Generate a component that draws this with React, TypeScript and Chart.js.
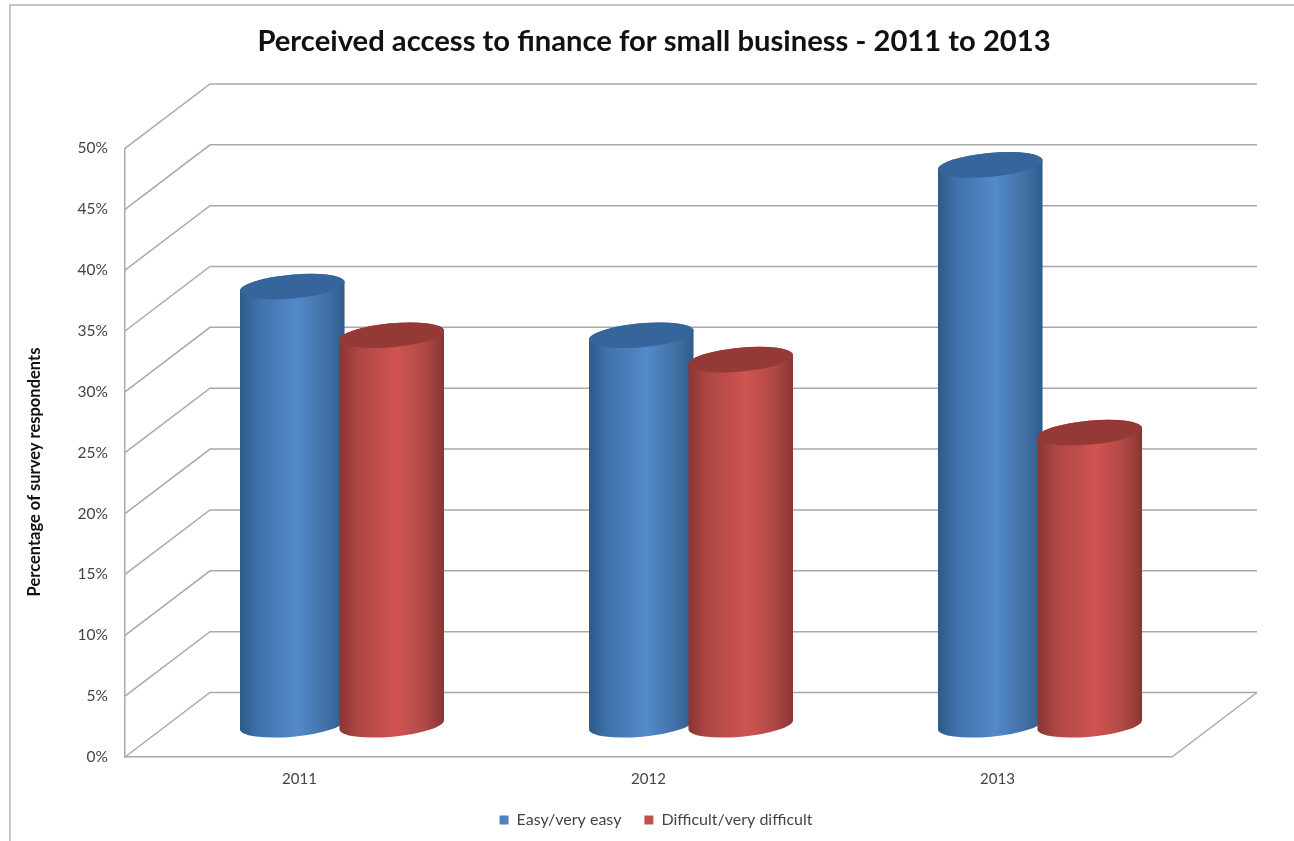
import React, { useEffect, useRef } from "react";
import { Chart, registerables } from "chart.js";

Chart.register(...registerables);

const years = ["2011", "2012", "2013"];
const easyShare = [36, 32, 46];
const difficultShare = [32, 30, 24];
const seriesNames = ["Easy/very easy", "Difficult/very difficult"];
const chartTitle = "Perceived access to finance for small business - 2011 to 2013";
const valueAxisTitle = "Percentage of survey respondents";

const FONT = "Lato";
const GRID = "#a9a9a9";
const TEXT = "#444444";
// Oblique projection of the floor: how far the back wall sits from the front plane.
const DEPTH_X = 85;
const DEPTH_Y = 64.5;

const tones = [
  { stops: ["#2b5a8a", "#3f72ab", "#538aca", "#4373a9", "#2f5c8c"], cap: "#35659a", key: "#4f81bd" },
  { stops: ["#8a3533", "#ad4643", "#cf5451", "#b24a47", "#8a3533"], cap: "#953937", key: "#c0504d" },
];
const stopAt = [0, 0.18, 0.55, 0.8, 1];

const box3d = {
  id: "box3d",
  afterLayout(chart: any) {
    // Title and legend are centred on the whole figure, not on the plot.
    if (chart.titleBlock) {
      chart.titleBlock.left = 0;
      chart.titleBlock.right = 1308;
    }
    if (chart.legend) {
      chart.legend.left = 0;
      chart.legend.right = 1312;
      chart.legend.top -= 3;
      chart.legend.bottom -= 3;
    }
  },
  beforeDraw(chart: any) {
    const { ctx } = chart;
    ctx.save();
    ctx.strokeStyle = "#b4b4b4";
    ctx.lineWidth = 1.5;
    ctx.beginPath();
    ctx.moveTo(10, 841);
    ctx.lineTo(10, 5);
    ctx.lineTo(1294, 5);
    ctx.stroke();
    ctx.restore();
  },
  beforeDatasetsDraw(chart: any) {
    const { ctx, scales } = chart;
    const { x, y } = scales;
    const left = x.left;
    const right = x.right;

    // Walls: one L-shaped line per value tick, then the right edge of the floor.
    ctx.save();
    ctx.strokeStyle = GRID;
    ctx.lineWidth = 1.5;
    for (const tick of y.ticks) {
      const py = y.getPixelForValue(tick.value);
      ctx.beginPath();
      ctx.moveTo(left, py);
      ctx.lineTo(left + DEPTH_X, py - DEPTH_Y);
      ctx.lineTo(right + DEPTH_X, py - DEPTH_Y);
      ctx.stroke();
    }
    const floor = y.getPixelForValue(0);
    ctx.beginPath();
    ctx.moveTo(right + DEPTH_X, floor - DEPTH_Y);
    ctx.lineTo(right, floor);
    ctx.stroke();

    // Value-axis title sits below the plot's mid height.
    ctx.fillStyle = "#111111";
    ctx.font = `bold 16.5px ${FONT}`;
    ctx.textAlign = "center";
    ctx.textBaseline = "middle";
    ctx.translate(35, 472);
    ctx.rotate(-Math.PI / 2);
    ctx.fillText(valueAxisTitle, 0, 0);
    ctx.restore();

    // Cylinders stand at mid depth; later series overlap earlier ones.
    chart.data.datasets.forEach((_: any, di: number) => {
      const tone = tones[di];
      chart.getDatasetMeta(di).data.forEach((bar: any) => {
        const cx = bar.x + DEPTH_X / 2;
        const rx = bar.width / 2 + 2.75;
        const ry = 12;
        const tilt = -0.09;
        const top = bar.y - DEPTH_Y / 2;
        const base = bar.base - DEPTH_Y / 2;

        const body = ctx.createLinearGradient(cx - rx, 0, cx + rx, 0);
        tone.stops.forEach((c: string, i: number) => body.addColorStop(stopAt[i], c));

        ctx.save();
        ctx.beginPath();
        ctx.ellipse(cx, base, rx, ry, tilt, 0, Math.PI);
        ctx.ellipse(cx, top, rx, ry, tilt, Math.PI, Math.PI * 2);
        ctx.closePath();
        ctx.fillStyle = body;
        ctx.fill();

        ctx.beginPath();
        ctx.ellipse(cx, top, rx, ry, tilt, 0, Math.PI * 2);
        ctx.fillStyle = tone.cap;
        ctx.fill();
        ctx.restore();
      });
    });

    // The bars are fully painted above, so the default rectangles are skipped.
    return false;
  },
};

export default function App() {
  const ref = useRef<HTMLCanvasElement>(null);

  useEffect(() => {
    const chart = new Chart(ref.current as HTMLCanvasElement, {
      type: "bar",
      data: {
        labels: years,
        datasets: [
          { label: seriesNames[0], data: easyShare, backgroundColor: tones[0].key },
          { label: seriesNames[1], data: difficultShare, backgroundColor: tones[1].key },
        ],
      },
      options: {
        animation: false,
        responsive: false,
        categoryPercentage: 0.57,
        barPercentage: 1,
        layout: { padding: { left: 0, right: 122, top: 0, bottom: 0 } },
        plugins: {
          tooltip: { enabled: false },
          title: {
            display: true,
            text: chartTitle,
            color: "#111111",
            font: { family: FONT, size: 29.2, weight: "bold", lineHeight: 1.2 },
            padding: { top: 24, bottom: 89.4 },
          },
          legend: {
            position: "bottom",
            labels: {
              color: TEXT,
              font: { family: FONT, size: 16 },
              boxWidth: 9,
              boxHeight: 9,
              padding: 23,
            },
          },
        },
        scales: {
          x: {
            grid: { display: false, drawTicks: false },
            border: { display: true, color: GRID, width: 1.5 },
            ticks: { color: TEXT, font: { family: FONT, size: 15 }, padding: 13 },
            afterFit(scale: any) {
              scale.height = 35;
            },
          },
          y: {
            min: 0,
            max: 50,
            grid: { display: false, drawTicks: false },
            border: { display: true, color: GRID, width: 1.5 },
            ticks: {
              stepSize: 5,
              color: TEXT,
              font: { family: FONT, size: 15.5 },
              padding: 17,
              callback: (v: any) => `${v}%`,
            },
            afterFit(scale: any) {
              scale.width = 125;
            },
          },
        },
      } as any,
      plugins: [box3d],
    });
    return () => chart.destroy();
  }, []);

  return (
    <div style={{ position: "absolute", left: 0, top: 0, width: 1294, height: 841, overflow: "hidden", background: "#fff" }}>
      <canvas ref={ref} width={1294} height={841} style={{ display: "block" }} />
    </div>
  );
}
